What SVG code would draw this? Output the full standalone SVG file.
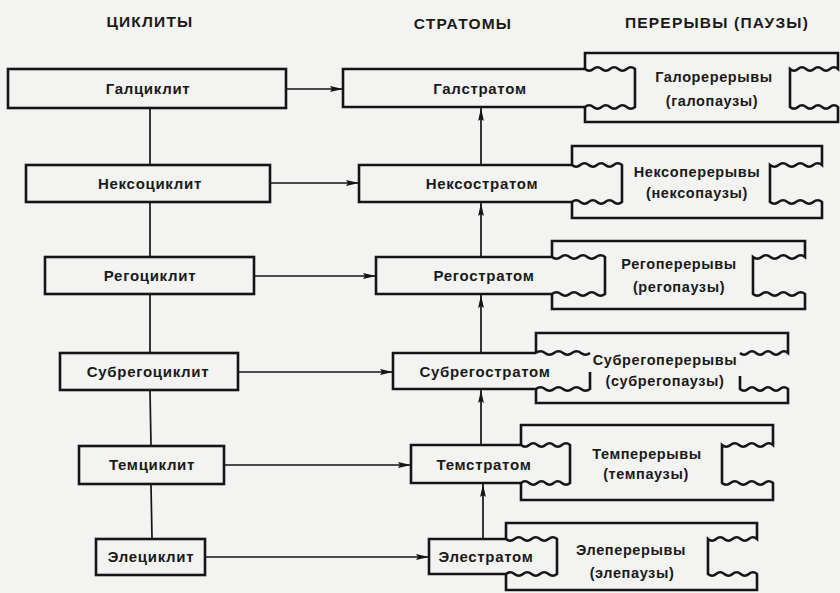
<svg xmlns="http://www.w3.org/2000/svg" width="840" height="593" viewBox="0 0 840 593">
<defs>
<style>
.box{fill:none;stroke:#151515;stroke-width:2.6;stroke-linejoin:miter}
.con{fill:none;stroke:#151515;stroke-width:1.7}
.lbl{font-family:"Liberation Sans",Arial,sans-serif;font-size:15px;font-weight:bold;fill:#1a1a1a;text-anchor:middle;letter-spacing:0.7px}
.ptx{font-family:"Liberation Sans",Arial,sans-serif;font-size:14.5px;font-weight:bold;fill:#1a1a1a;text-anchor:middle;letter-spacing:0.6px}
.hdr{font-family:"Liberation Sans",Arial,sans-serif;font-size:15.5px;font-weight:bold;fill:#1a1a1a;text-anchor:middle;letter-spacing:1.2px}
</style>
<marker id="ah" viewBox="0 0 13 7" refX="13" refY="3.5" markerWidth="13" markerHeight="7" markerUnits="userSpaceOnUse" orient="auto">
<path d="M0,0.6 L13,3.5 L0,6.4 L2,3.5 Z" fill="#151515"/>
</marker>
</defs>
<rect width="840" height="593" fill="#f3f3f1"/>
<g id="headers">
<text class="hdr" x="150" y="27">ЦИКЛИТЫ</text>
<text class="hdr" x="463" y="29">СТРАТОМЫ</text>
<text class="hdr" x="717" y="28">ПЕРЕРЫВЫ (ПАУЗЫ)</text>
</g>
<g id="connectors">
<line class="con" x1="150" y1="108" x2="150" y2="165"/>
<line class="con" x1="150" y1="202" x2="150" y2="257"/>
<line class="con" x1="150" y1="294" x2="150" y2="353"/>
<line class="con" x1="150" y1="390" x2="151" y2="446"/>
<line class="con" x1="151" y1="484" x2="152" y2="539"/>
<line class="con" x1="286" y1="89" x2="343" y2="89" marker-end="url(#ah)"/>
<line class="con" x1="270" y1="183" x2="359" y2="183" marker-end="url(#ah)"/>
<line class="con" x1="254" y1="276" x2="376" y2="276" marker-end="url(#ah)"/>
<line class="con" x1="238" y1="372" x2="393" y2="372" marker-end="url(#ah)"/>
<line class="con" x1="224" y1="465" x2="411" y2="465" marker-end="url(#ah)"/>
<line class="con" x1="205" y1="557" x2="429" y2="557" marker-end="url(#ah)"/>
<line class="con" x1="481" y1="165" x2="481" y2="108" marker-end="url(#ah)"/>
<line class="con" x1="481" y1="257" x2="481" y2="203" marker-end="url(#ah)"/>
<line class="con" x1="481" y1="353" x2="481" y2="295" marker-end="url(#ah)"/>
<line class="con" x1="481" y1="445" x2="481" y2="390" marker-end="url(#ah)"/>
<line class="con" x1="483" y1="539" x2="483" y2="484" marker-end="url(#ah)"/>
</g>
<g id="cyc1"><rect class="box" x="8" y="69" width="278" height="39"/><text class="lbl" x="148" y="94">Галциклит</text></g>
<g id="cyc2"><rect class="box" x="26" y="165" width="244" height="37"/><text class="lbl" x="150" y="189">Нексоциклит</text></g>
<g id="cyc3"><rect class="box" x="45" y="257" width="209" height="37"/><text class="lbl" x="150" y="281">Регоциклит</text></g>
<g id="cyc4"><rect class="box" x="60" y="353" width="178" height="37"/><text class="lbl" x="148" y="377">Субрегоциклит</text></g>
<g id="cyc5"><rect class="box" x="79" y="446" width="145" height="38"/><text class="lbl" x="152" y="470">Темциклит</text></g>
<g id="cyc6"><rect class="box" x="96" y="539" width="109" height="36"/><text class="lbl" x="151" y="562">Элециклит</text></g>

<g id="str1"><path class="box" d="M585,69 H343 V107 H585 q4.17,-3.5 8.33,0 t8.33,0 t8.33,0 t8.33,0 t8.33,0 t8.33,0 V69 q-4.17,-3.5 -8.33,0 t-8.33,0 t-8.33,0 t-8.33,0 t-8.33,0 t-8.33,0"/><text class="lbl" x="480" y="94">Галстратом</text></g>
<g id="str2"><path class="box" d="M572,165 H359 V202 H572 q4.17,-3.5 8.33,0 t8.33,0 t8.33,0 t8.33,0 t8.33,0 t8.33,0 V165 q-4.17,-3.5 -8.33,0 t-8.33,0 t-8.33,0 t-8.33,0 t-8.33,0 t-8.33,0"/><text class="lbl" x="482" y="189">Нексостратом</text></g>
<g id="str3"><path class="box" d="M552,257 H376 V294 H552 q4.42,-3.5 8.83,0 t8.83,0 t8.83,0 t8.83,0 t8.83,0 t8.83,0 V257 q-4.42,-3.5 -8.83,0 t-8.83,0 t-8.83,0 t-8.83,0 t-8.83,0 t-8.83,0"/><text class="lbl" x="484" y="281">Регостратом</text></g>
<g id="str4"><path class="box" d="M536,353 H393 V389 H536 q4.5,-3.5 9,0 t9,0 t9,0 t9,0 t9,0 t9,0 V372 M536,353 q4.5,-3.5 9,0 t9,0 t9,0 t9,0 t9,0 t9,0"/><text class="lbl" x="485" y="377">Субрегостратом</text></g>
<g id="str5"><path class="box" d="M521,445 H411 V483 H521 q4.08,-3.5 8.17,0 t8.17,0 t8.17,0 t8.17,0 t8.17,0 t8.17,0 V445 q-4.08,-3.5 -8.17,0 t-8.17,0 t-8.17,0 t-8.17,0 t-8.17,0 t-8.17,0"/><text class="lbl" x="484" y="470">Темстратом</text></g>
<g id="str6"><path class="box" d="M506,539 H429 V574 H506 q4.25,-3.5 8.5,0 t8.5,0 t8.5,0 t8.5,0 t8.5,0 t8.5,0 V539 q-4.25,-3.5 -8.5,0 t-8.5,0 t-8.5,0 t-8.5,0 t-8.5,0 t-8.5,0"/><text class="lbl" x="486" y="562">Элестратом</text></g>

<g id="pau1"><path class="box" d="M585,69 V53 H838 V69 q-4,-3.5 -8,0 t-8,0 t-8,0 t-8,0 t-8,0 t-8,0 V107 q4,3.5 8,0 t8,0 t8,0 t8,0 t8,0 t8,0 V122 H585 V107"/><text class="ptx" x="714" y="82">Галоререрывы</text><text class="ptx" x="712" y="106">(галопаузы)</text></g>
<g id="pau2"><path class="box" d="M572,165 V146 H822 V165 q-4.33,-3.5 -8.67,0 t-8.67,0 t-8.67,0 t-8.67,0 t-8.67,0 t-8.67,0 V202 q4.33,3.5 8.67,0 t8.67,0 t8.67,0 t8.67,0 t8.67,0 t8.67,0 V218 H572 V202"/><text class="ptx" x="697" y="177">Нексоперерывы</text><text class="ptx" x="697" y="198">(нексопаузы)</text></g>
<g id="pau3"><path class="box" d="M552,257 V241 H805 V257 q-4.33,-3.5 -8.67,0 t-8.67,0 t-8.67,0 t-8.67,0 t-8.67,0 t-8.67,0 V294 q4.33,3.5 8.67,0 t8.67,0 t8.67,0 t8.67,0 t8.67,0 t8.67,0 V309 H552 V294"/><text class="ptx" x="679" y="269">Регоперерывы</text><text class="ptx" x="679" y="292">(регопаузы)</text></g>
<g id="pau4"><path class="box" d="M536,353 V333 H788 V353 q-4,-3.5 -8,0 t-8,0 t-8,0 t-8,0 t-8,0 t-8,0 M740,376 V389 q4,3.5 8,0 t8,0 t8,0 t8,0 t8,0 t8,0 V403 H536 V389"/><text class="ptx" x="665" y="365">Субрегоперерывы</text><text class="ptx" x="665" y="386">(субрегопаузы)</text></g>
<g id="pau5"><path class="box" d="M521,445 V425 H773 V445 q-4.25,-3.5 -8.5,0 t-8.5,0 t-8.5,0 t-8.5,0 t-8.5,0 t-8.5,0 V483 q4.25,3.5 8.5,0 t8.5,0 t8.5,0 t8.5,0 t8.5,0 t8.5,0 V500 H521 V483"/><text class="ptx" x="647" y="459">Темперерывы</text><text class="ptx" x="646" y="479">(темпаузы)</text></g>
<g id="pau6"><path class="box" d="M506,539 V523 H757 V539 q-4.08,-3.5 -8.17,0 t-8.17,0 t-8.17,0 t-8.17,0 t-8.17,0 t-8.17,0 V574 q4.08,3.5 8.17,0 t8.17,0 t8.17,0 t8.17,0 t8.17,0 t8.17,0 V590 H506 V574"/><text class="ptx" x="631" y="555">Элеперерывы</text><text class="ptx" x="632" y="578">(элепаузы)</text></g>
</svg>
